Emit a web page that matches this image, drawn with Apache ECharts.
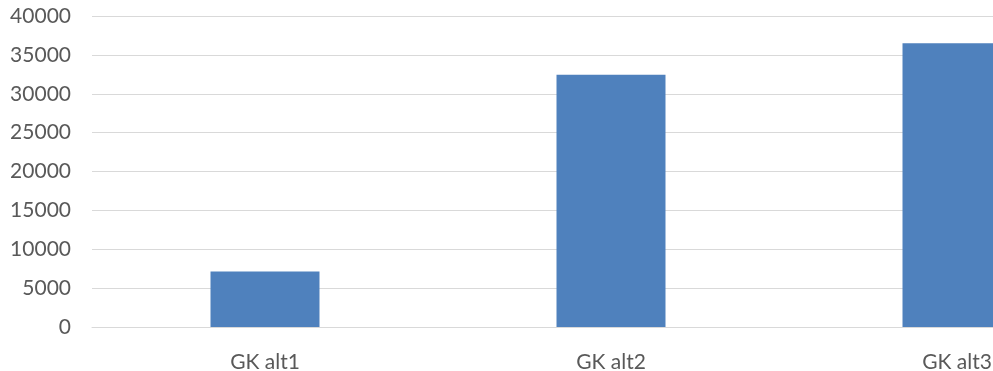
<!DOCTYPE html>
<html>
<head>
<meta charset="utf-8">
<script src="https://cdn.jsdelivr.net/npm/echarts@6/dist/echarts.min.js"></script>
<style>
html,body{margin:0;padding:0;background:#fff;}
#c{width:993px;height:371px;}
</style>
</head>
<body>
<div id="c"></div>
<script>
const categories = ['GK alt1', 'GK alt2', 'GK alt3'];
const values = [7150, 32450, 36500];
const yTicks = { min: 0, max: 40000, interval: 5000 };

const chart = echarts.init(document.getElementById('c'), null, { renderer: 'canvas' });
chart.setOption({
  animation: false,
  grid: { left: 92, right: -137, top: 16, bottom: 44, outerBoundsMode: 'none', containLabel: false },
  xAxis: {
    type: 'category',
    data: categories,
    axisLine: { show: true, lineStyle: { color: '#d9d9d9', width: 1 } },
    axisTick: { show: false },
    axisLabel: { interval: 0, margin: 25, color: '#595959', fontFamily: 'Lato', fontSize: 21, hideOverlap: false }
  },
  yAxis: {
    type: 'value',
    min: yTicks.min, max: yTicks.max, interval: yTicks.interval,
    axisLine: { show: false },
    axisTick: { show: false },
    splitLine: { lineStyle: { color: '#d9d9d9', width: 1 } },
    axisLabel: { margin: 21, color: '#595959', fontFamily: 'Lato', fontSize: 21, formatter: function (v) { return String(v); } }
  },
  series: [{
    type: 'bar',
    data: values,
    barWidth: '31.5%',
    itemStyle: { color: '#4f81bd' }
  }]
});
</script>
</body>
</html>
